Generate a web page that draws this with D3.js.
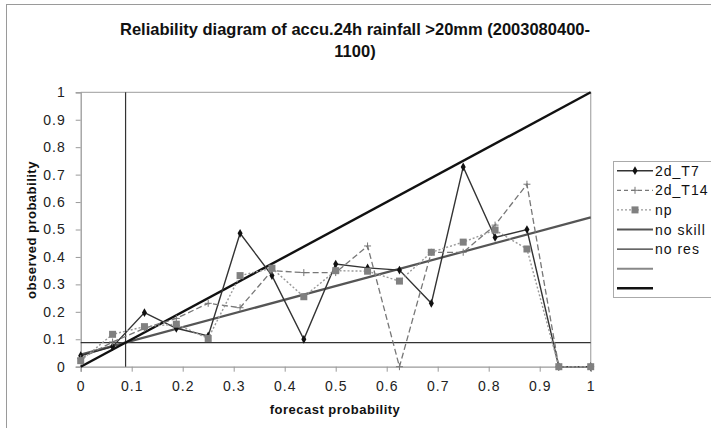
<!DOCTYPE html>
<html><head><meta charset="utf-8">
<script src="https://cdn.jsdelivr.net/npm/d3@7"></script>
<style>
body{margin:0;background:#fff;}
svg{display:block;font-family:"Liberation Sans",Arial,Helvetica,sans-serif;}
</style></head>
<body><svg id="c" width="711" height="428"></svg>
<script>
const probs = [0, 0.0625, 0.125, 0.1875, 0.25, 0.3125, 0.375, 0.4375, 0.5, 0.5625, 0.625, 0.6875, 0.75, 0.8125, 0.875, 0.9375, 1];
const t7  = [0.04, 0.073, 0.197, 0.14, 0.112, 0.486, 0.332, 0.10, 0.374, 0.36, 0.352, 0.231, 0.728, 0.471, 0.50, 0, 0];
const t14 = [0.03, 0.09, 0.14, 0.176, 0.231, 0.215, 0.35, 0.343, 0.343, 0.44, 0, 0.417, 0.417, 0.516, 0.665, 0, 0];
const np  = [0.022, 0.118, 0.146, 0.155, 0.103, 0.332, 0.359, 0.255, 0.35, 0.348, 0.312, 0.417, 0.454, 0.498, 0.429, 0, 0];
const climate = 0.088;
const xTicks = [0, 0.1, 0.2, 0.3, 0.4, 0.5, 0.6, 0.7, 0.8, 0.9, 1];
const yTicks = [0, 0.1, 0.2, 0.3, 0.4, 0.5, 0.6, 0.7, 0.8, 0.9, 1];
const legendLabels = ["2d_T7", "2d_T14", "np", "no skill", "no res", "", ""];
const titleLines = ["Reliability diagram of accu.24h rainfall >20mm (2003080400-", "1100)"];

const svg = d3.select("#c");
// outer frame
svg.append("rect").attr("x",6.5).attr("y",4.5).attr("width",720).attr("height",440)
  .attr("fill","none").attr("stroke","#9a9a9a").attr("stroke-width",1);

const L=80.7, R=590.7, T=92.3, B=366.7;
const x = d3.scaleLinear().domain([0,1]).range([L,R]);
const y = d3.scaleLinear().domain([0,1]).range([B,T]);

// plot border (top/right)
svg.append("path").attr("d",`M${L},${T}H${R}V${B}`).attr("fill","none").attr("stroke","#b0b0b0").attr("stroke-width",1.3);

// axes
const xa = svg.append("g").attr("transform",`translate(0,${B})`)
  .call(d3.axisBottom(x).tickValues(xTicks).tickFormat(d3.format("~g")).tickSize(5).tickPadding(9));
const ya = svg.append("g").attr("transform",`translate(${L},0)`)
  .call(d3.axisLeft(y).tickValues(yTicks).tickFormat(d3.format("~g")).tickSize(5).tickPadding(10));
[xa,ya].forEach(a=>{
  a.select(".domain").attr("stroke","#9a9a9a").attr("stroke-width",1.3);
  a.selectAll(".tick line").attr("stroke","#9a9a9a");
  a.selectAll(".tick text").attr("fill","#222").style("font-size","14px").style("letter-spacing","1px");
});

const g = svg.append("g");
// no res lines
g.append("line").attr("x1",x(0)).attr("x2",x(1)).attr("y1",y(climate)).attr("y2",y(climate))
  .attr("stroke","#333").attr("stroke-width",1.2);
g.append("line").attr("x1",x(climate)).attr("x2",x(climate)).attr("y1",y(0)).attr("y2",y(1))
  .attr("stroke","#333").attr("stroke-width",1.2);
// no skill
g.append("line").attr("x1",x(0)).attr("x2",x(1)).attr("y1",y(climate/2)).attr("y2",y((1+climate)/2))
  .attr("stroke","#555").attr("stroke-width",2.2);
// perfect
g.append("line").attr("x1",x(0)).attr("x2",x(1)).attr("y1",y(0)).attr("y2",y(1))
  .attr("stroke","#111").attr("stroke-width",2.4);

const line = d3.line().x((d,i)=>x(probs[i])).y(d=>y(d));
function series(vals, stroke, dash, width){
  g.append("path").datum(vals).attr("d",line).attr("fill","none")
   .attr("stroke",stroke).attr("stroke-width",width).attr("stroke-dasharray",dash);
}
series(t7,"#333",null,1.4);
g.selectAll(".d7").data(t7).join("path").attr("class","d7")
  .attr("transform",(d,i)=>`translate(${x(probs[i])},${y(d)})`)
  .attr("d",d3.symbol(d3.symbolDiamond,22)).attr("fill","#111");
series(t14,"#777","6,3",1.3);
g.selectAll(".p14").data(t14).join("path").attr("class","p14")
  .attr("transform",(d,i)=>`translate(${x(probs[i])},${y(d)})`)
  .attr("d","M-3.5,0H3.5M0,-3.5V3.5").attr("stroke","#777").attr("stroke-width",1);
series(np,"#999","2,2",1.4);
g.selectAll(".snp").data(np).join("rect").attr("class","snp")
  .attr("x",(d,i)=>x(probs[i])-3.5).attr("y",d=>y(d)-3.5).attr("width",7).attr("height",7)
  .attr("fill","#808080");

// title
svg.append("g").selectAll("text").data(titleLines).join("text")
  .attr("x",355).attr("y",(d,i)=>35+i*22).attr("text-anchor","middle")
  .style("font-size","16.5px").style("font-weight","bold").attr("fill","#111").text(d=>d);
// axis titles
svg.append("text").attr("x",335).attr("y",414).attr("text-anchor","middle")
  .style("font-size","13px").style("font-weight","bold").style("letter-spacing","0.5px").attr("fill","#111").text("forecast probability");
svg.append("text").attr("transform","translate(36,230) rotate(-90)").attr("text-anchor","middle")
  .style("font-size","13px").style("font-weight","bold").style("letter-spacing","0.5px").attr("fill","#111").text("observed probability");

// legend
const lg = svg.append("g");
lg.append("rect").attr("x",613.5).attr("y",161.5).attr("width",110).attr("height",136)
  .attr("fill","#fff").attr("stroke","#aaa");
const styles = [
  {s:"#333",d:null,w:1.4,m:"diamond"},
  {s:"#777",d:"4,3",w:1.2,m:"plus"},
  {s:"#999",d:"2,2",w:1.4,m:"square"},
  {s:"#555",d:null,w:2.2},
  {s:"#333",d:null,w:1.2},
  {s:"#888",d:null,w:2},
  {s:"#111",d:null,w:2.4}
];
const rows = lg.selectAll("g").data(legendLabels).join("g")
  .attr("transform",(d,i)=>`translate(0,${170.7+i*19.6})`);
rows.append("line").attr("x1",617).attr("x2",653).attr("y1",0).attr("y2",0)
  .attr("stroke",(d,i)=>styles[i].s).attr("stroke-width",(d,i)=>styles[i].w)
  .attr("stroke-dasharray",(d,i)=>styles[i].d);
rows.each(function(d,i){
  const r=d3.select(this), st=styles[i];
  if(st.m==="diamond") r.append("path").attr("transform","translate(635,0)").attr("d",d3.symbol(d3.symbolDiamond,22)).attr("fill","#111");
  if(st.m==="plus") r.append("path").attr("d","M631.5,0H638.5M635,-3.5V3.5").attr("stroke","#777");
  if(st.m==="square") r.append("rect").attr("x",631.5).attr("y",-3.5).attr("width",7).attr("height",7).attr("fill","#808080");
});
rows.append("text").attr("x",655).attr("y",5).style("font-size","14px").style("letter-spacing","1px").attr("fill","#111").text(d=>d);
</script></body></html>
